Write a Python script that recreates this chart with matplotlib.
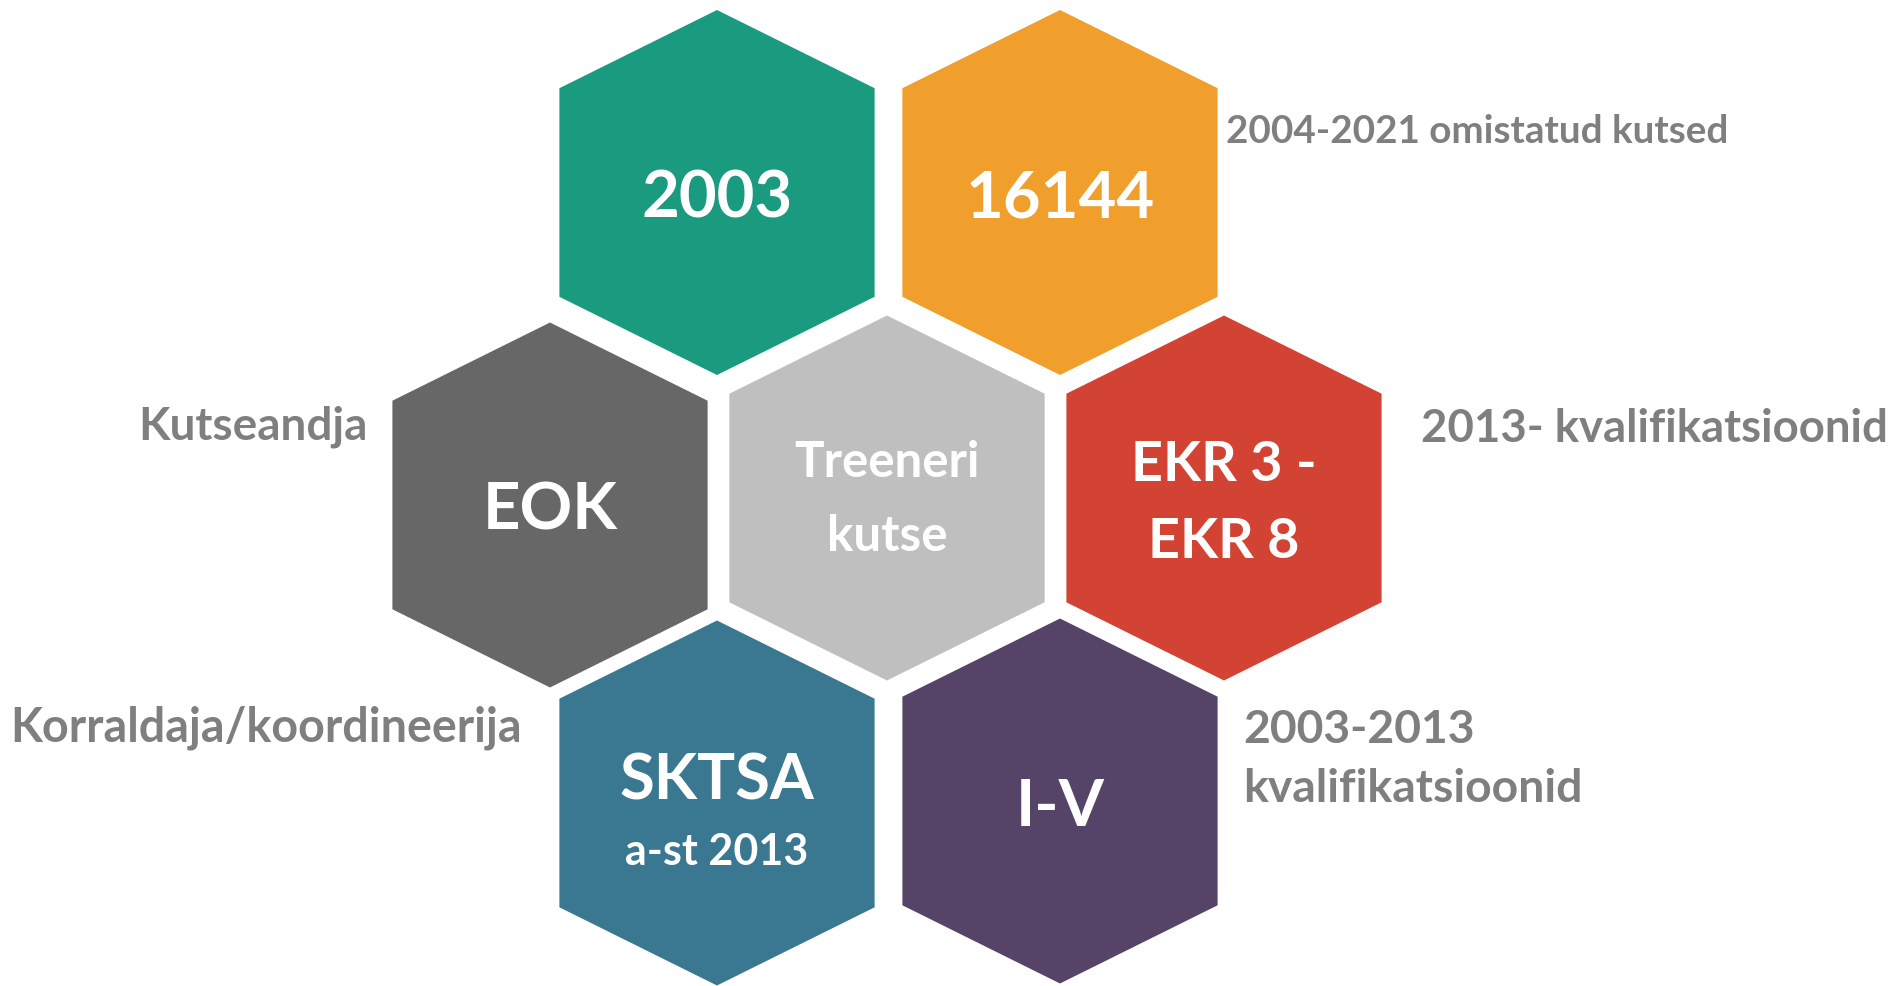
import matplotlib
matplotlib.use("Agg")
import matplotlib.pyplot as plt
from matplotlib.patches import Polygon

plt.rcParams['font.family'] = ['Lato', 'DejaVu Sans']

# Kuusnurkade sisu
hex_labels = ["2003", "16144", "EOK", "Treeneri\nkutse", "EKR 3 -\nEKR 8", "SKTSA\na-st 2013", "I-V"]
hex_colors = ["#1A9B80", "#F09E2C", "#676767", "#BFBFBF", "#D34334", "#3A7790", "#564468"]

# Selgitavad tekstid
side_notes = ["2004-2021 omistatud kutsed", "2013- kvalifikatsioonid", "Kutseandja",
              "Korraldaja/koordineerija", "2003-2013\nkvalifikatsioonid"]

# Paigutus (pikslites, y alla)
centers = [(717, 192.5), (1060, 192.5), (550, 505), (887, 498), (1224, 498), (717, 803), (1060, 801)]
hw, hh, sh = 157.6, 182.5, 104.3  # pool laiust, pool kõrgust, õla kõrgus

# rea baasjooned iga kuusnurga teksti jaoks + fondisuurus
text_lines = [
    [(218, 47)],
    [(218, 47)],
    [(530, 47)],
    [(477, 35.5), (551, 35.5)],
    [(481, 40), (558, 40)],
    [(800, 45.5), (865, 31)],
    [(826, 47)],
]

W, H = 1893, 986
fig = plt.figure(figsize=(W / 100, H / 100), dpi=100)
ax = fig.add_axes([0, 0, 1, 1])
ax.set_xlim(0, W)
ax.set_ylim(H, 0)
ax.axis('off')

for (cx, cy), col, lab, lines in zip(centers, hex_colors, hex_labels, text_lines):
    pts = [(cx, cy - hh), (cx + hw, cy - sh), (cx + hw, cy + sh),
           (cx, cy + hh), (cx - hw, cy + sh), (cx - hw, cy - sh)]
    ax.add_patch(Polygon(pts, closed=True, facecolor=col, edgecolor='none'))
    for txt, (base, fs) in zip(lab.split("\n"), lines):
        ax.text(cx, base, txt, ha='center', va='baseline', color='white',
                fontsize=fs, fontweight='bold')

gray = "#7F7F7F"
# (x, baasjoon, joondus, suurus)
note_pos = [(1226, 143, 'left', 27.8), (1421, 442, 'left', 32.8), (368, 439, 'right', 33),
            (522, 742, 'right', 33.6), (1243, 743, 'left', 33.3)]
for txt, (x, y, ha, fs) in zip(side_notes, note_pos):
    for i, line in enumerate(txt.split("\n")):
        ax.text(x, y + i * 58.5, line, ha=ha, va='baseline', color=gray,
                fontsize=fs, fontweight='bold')

fig.savefig("out.png", dpi=100, facecolor='white')
